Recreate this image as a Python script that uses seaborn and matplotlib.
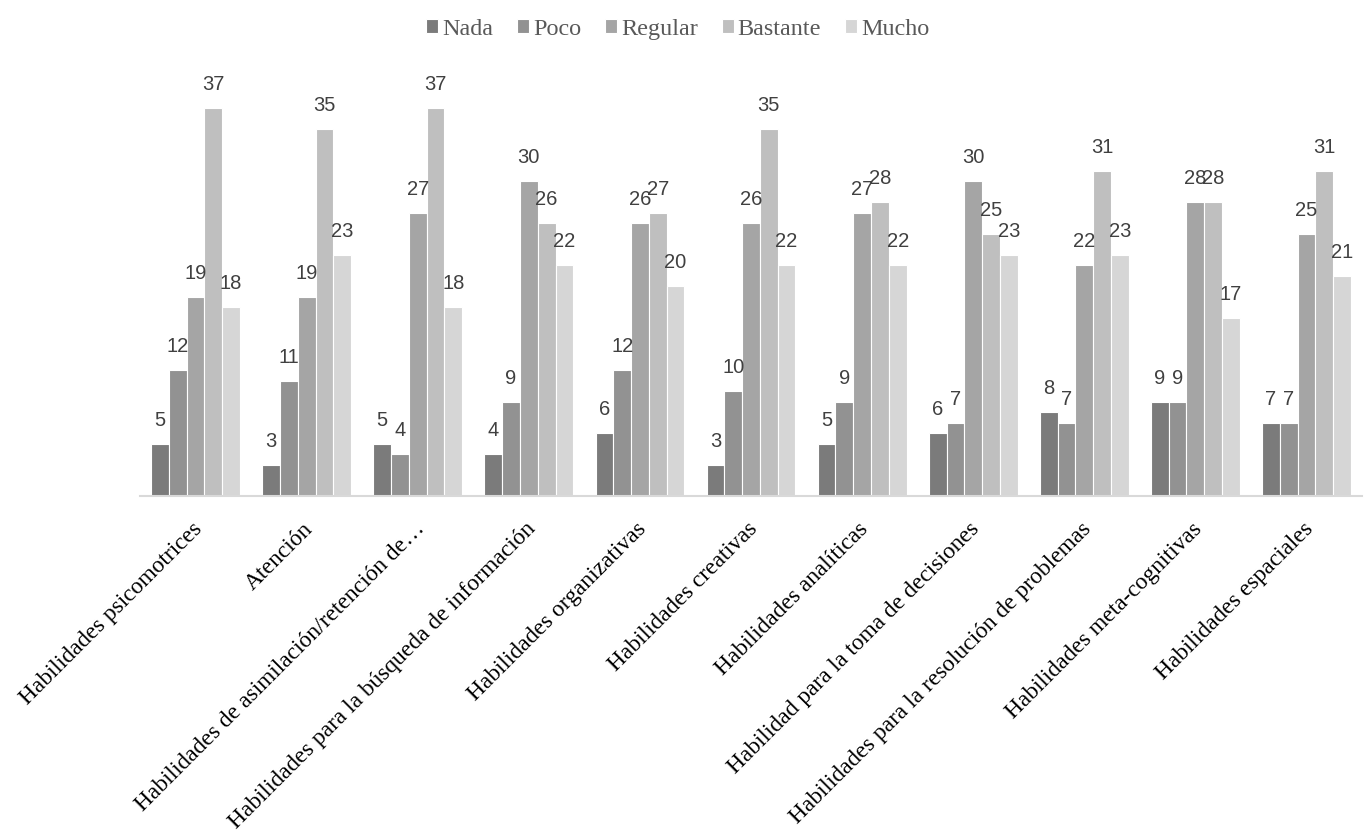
import matplotlib
matplotlib.use("Agg")
import matplotlib.pyplot as plt
import matplotlib.transforms as mtransforms
import seaborn as sns
import pandas as pd

categories = [
    "Habilidades psicomotrices",
    "Atención",
    "Habilidades de asimilación/retención de…",
    "Habilidades para la búsqueda de información",
    "Habilidades organizativas",
    "Habilidades creativas",
    "Habilidades analíticas",
    "Habilidad para la toma de decisiones",
    "Habilidades para la resolución de problemas",
    "Habilidades meta-cognitivas",
    "Habilidades espaciales",
]
series_names = ["Nada", "Poco", "Regular", "Bastante", "Mucho"]
nada = [5, 3, 5, 4, 6, 3, 5, 6, 8, 9, 7]
poco = [12, 11, 4, 9, 12, 10, 9, 7, 7, 9, 7]
regular = [19, 19, 27, 30, 26, 26, 27, 30, 22, 28, 25]
bastante = [37, 35, 37, 26, 27, 35, 28, 25, 31, 28, 31]
mucho = [18, 23, 18, 22, 20, 22, 22, 23, 23, 17, 21]
colors = ["#7b7b7b", "#929292", "#a5a5a5", "#bfbfbf", "#d6d6d6"]

rows = []
for name, vals in zip(series_names, [nada, poco, regular, bastante, mucho]):
    for c, v in zip(categories, vals):
        rows.append({"cat": c, "serie": name, "val": v})
df = pd.DataFrame(rows)

sns.set_theme(style="white")
plt.rcParams["font.family"] = ["Liberation Sans", "DejaVu Sans"]

fig = plt.figure(figsize=(13.65, 8.3), dpi=100)
ax = fig.add_axes([0.1026, 0.402, 0.8952, 0.506])
sns.barplot(data=df, x="cat", y="val", hue="serie", order=categories,
            hue_order=series_names, palette=colors, width=0.8,
            edgecolor="white", linewidth=0.8, saturation=1, ax=ax, legend=True)

for cont in ax.containers:
    ax.bar_label(cont, fmt="%d", padding=10, fontsize=14.5, color="#404040",
                 family="Liberation Sans")

ax.set_ylim(0, 40)
ax.set_xlim(-0.5, len(categories) - 0.5)
ax.set_yticks([])
ax.set_xlabel("")
ax.set_ylabel("")
for s in ["top", "left", "right"]:
    ax.spines[s].set_visible(False)
ax.spines["bottom"].set_color("#d9d9d9")
ax.spines["bottom"].set_linewidth(1.5)
ax.tick_params(axis="x", length=0, pad=16)
ax.set_xticks(range(len(categories)))
ax.set_xticklabels(categories, rotation=45, ha="right", rotation_mode="anchor",
                   fontsize=16.9, family="Liberation Serif", color="#000000")
offset = mtransforms.ScaledTranslation(-4 / 100, 0, fig.dpi_scale_trans)
for lbl in ax.get_xticklabels():
    lbl.set_transform(lbl.get_transform() + offset)

leg = ax.legend(loc="center", bbox_to_anchor=(0.44, 1.112), ncol=5,
                frameon=False, handlelength=0.5, handleheight=0.5,
                handletextpad=0.15, columnspacing=1.0,
                prop={"family": "Liberation Serif", "size": 17.4})
for t in leg.get_texts():
    t.set_color("#595959")

fig.savefig("out.png", dpi=100, facecolor="white")
